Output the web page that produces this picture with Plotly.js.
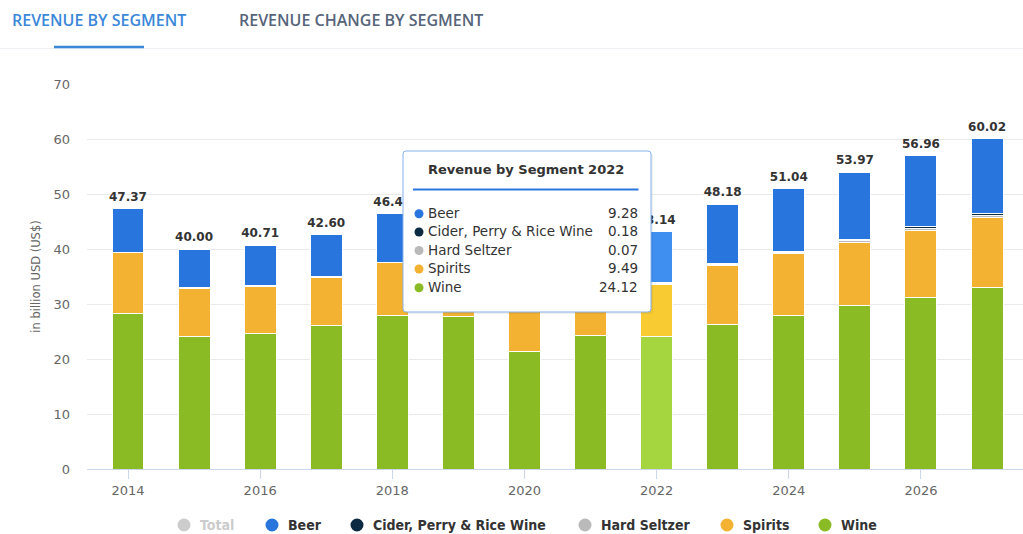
<!DOCTYPE html>
<html>
<head>
<meta charset="utf-8">
<script src="https://cdn.plot.ly/plotly-3.0.1.min.js"></script>
<style>html,body{margin:0;padding:0;background:#fff;}#chart{width:1023px;height:534px;}</style>
</head>
<body>
<div id="chart"></div>
<script>
// ---- Data (billion USD) ----
const years       = [2014, 2015, 2016, 2017, 2018, 2019, 2020, 2021, 2022, 2023, 2024, 2025, 2026, 2027];
const wine        = [28.20, 24.05, 24.67, 26.05, 28.00, 27.70, 21.45, 24.36, 24.12, 26.36, 27.87, 29.64, 31.20, 33.04];
const spirits     = [11.10,  8.80,  8.60,  8.85,  9.50, 10.00,  8.60,  9.25,  9.49, 10.68, 11.33, 11.58, 12.25, 12.60];
const hardSeltzer = [ 0.00,  0.00,  0.00,  0.00,  0.00,  0.01,  0.03,  0.05,  0.07,  0.10,  0.16,  0.25,  0.35,  0.45];
const cider       = [ 0.12,  0.11,  0.11,  0.12,  0.13,  0.14,  0.14,  0.16,  0.18,  0.20,  0.24,  0.30,  0.35,  0.45];
const beer        = [ 7.95,  7.04,  7.33,  7.58,  8.80,  9.20,  7.90,  8.60,  9.28, 10.84, 11.44, 12.20, 12.81, 13.48];
const xTickVals   = [2014, 2016, 2018, 2020, 2022, 2024, 2026];
const yTickVals   = [0, 10, 20, 30, 40, 50, 60, 70];
const legendNames = ['Total', 'Beer', 'Cider, Perry & Rice Wine', 'Hard Seltzer', 'Spirits', 'Wine'];
const tooltipYear = 2022;

// ---- Styles ----
const COL = {beer:'#2876dd', cider:'#0d2a43', hs:'#bababa', spirits:'#f4b233', wine:'#8abb25', total:'#cccccc'};
const HI  = {beer:'#3f8ff0', cider:'#1b3b5a', hs:'#c8c8c8', spirits:'#f9cb33', wine:'#a6d63f'};
const FONT = 'DejaVu Sans, Verdana, sans-serif';
const hiIdx = years.indexOf(tooltipYear);

const totals = years.map((y, i) => Math.round((wine[i] + spirits[i] + hardSeltzer[i] + cider[i] + beer[i]) * 100) / 100);

// pixel -> paper helpers (plot area 87..1023 x 84..469)
const L = 87, R = 1023, T = 84, B = 469, W = R - L, H = B - T;
const XR = [2013.3795, 2027.544];
const px = x => (x - L) / W;
const py = y => (B - y) / H;
const xToPix = v => L + (v - XR[0]) / (XR[1] - XR[0]) * W;

// tooltip box in pixels
const TIP = {x0: 403, y0: 151, x1: 651, y1: 312};
// total labels that lie completely under the tooltip box are not visible
const labelText = years.map((y, i) => {
  const cx = xToPix(y);
  const covered = (cx - 20) > TIP.x0 && (cx + 20) < TIP.x1;
  return covered ? '' : totals[i].toFixed(2);
});

function colorArr(key) {
  return years.map((y, i) => i === hiIdx ? HI[key] : COL[key]);
}
function barTrace(name, vals, key) {
  return {
    type: 'bar', name: name, x: years, y: vals,
    marker: {color: colorArr(key), line: {color: '#ffffff', width: 1}},
    hoverinfo: 'skip', showlegend: false
  };
}

const traces = [
  barTrace('Wine', wine, 'wine'),
  barTrace('Spirits', spirits, 'spirits'),
  barTrace('Hard Seltzer', hardSeltzer, 'hs'),
  barTrace('Cider, Perry & Rice Wine', cider, 'cider'),
  barTrace('Beer', beer, 'beer'),
  {
    type: 'scatter', mode: 'markers+text', x: years, y: totals,
    marker: {size: 6, color: 'rgba(0,0,0,0)'},
    text: labelText, textposition: 'top center',
    textfont: {family: FONT, size: 12, color: '#333333', weight: 'bold'},
    cliponaxis: false, hoverinfo: 'skip', showlegend: false
  }
];

const shapes = [];
const annotations = [];

// Tabs header
annotations.push({xref:'paper', yref:'paper', x: px(10), y: py(20), xanchor:'left', yanchor:'middle',
  text:'REVENUE BY SEGMENT', showarrow:false,
  font:{family:'Open Sans, sans-serif', size:16, color:'#3b87d9', weight:600}});
annotations.push({xref:'paper', yref:'paper', x: px(237), y: py(20), xanchor:'left', yanchor:'middle',
  text:'REVENUE CHANGE BY SEGMENT', showarrow:false,
  font:{family:'Open Sans, sans-serif', size:16, color:'#56657a', weight:600}});
shapes.push({type:'line', xref:'paper', yref:'paper', x0: px(0), x1: px(1023), y0: py(48.5), y1: py(48.5),
  line:{color:'#eef0f3', width:1}});
shapes.push({type:'line', xref:'paper', yref:'paper', x0: px(54), x1: px(144), y0: py(47), y1: py(47),
  line:{color:'#3b87d9', width:2.5}});

// Tooltip box (rounded)
function roundRect(x0, y0, x1, y1, r) {
  const a = px(x0), b = px(x1), c = py(y1), d = py(y0);
  const rx = r / W, ry = r / H;
  return `M ${a+rx},${d} L ${b-rx},${d} Q ${b},${d} ${b},${d-ry} L ${b},${c+ry} Q ${b},${c} ${b-rx},${c} ` +
         `L ${a+rx},${c} Q ${a},${c} ${a},${c+ry} L ${a},${d-ry} Q ${a},${d} ${a+rx},${d} Z`;
}
shapes.push({type:'path', xref:'paper', yref:'paper', layer:'above', path: roundRect(TIP.x0 + 2, TIP.y0 + 2, TIP.x1 + 2, TIP.y1 + 2, 3),
  fillcolor:'rgba(0,0,0,0.06)', line:{width:0}});
shapes.push({type:'path', xref:'paper', yref:'paper', layer:'above', path: roundRect(TIP.x0, TIP.y0, TIP.x1, TIP.y1, 3),
  fillcolor:'#ffffff', line:{color:'#84b1ee', width:1}});
shapes.push({type:'line', xref:'paper', yref:'paper', layer:'above', x0: px(413), x1: px(638.5), y0: py(189.5), y1: py(189.5),
  line:{color:'#2a77dc', width:2}});
annotations.push({xref:'paper', yref:'paper', x: px(525.5), y: py(169.5), xanchor:'center', yanchor:'middle',
  text:'<b>Revenue by Segment ' + tooltipYear + '</b>', showarrow:false,
  font:{family: FONT, size:13, color:'#333333'}});
const ttRows = [
  {name: legendNames[1], val: beer[hiIdx], col: COL.beer},
  {name: legendNames[2], val: cider[hiIdx], col: COL.cider},
  {name: legendNames[3], val: hardSeltzer[hiIdx], col: COL.hs},
  {name: legendNames[4], val: spirits[hiIdx], col: COL.spirits},
  {name: legendNames[5], val: wine[hiIdx], col: COL.wine}
];
const rowY = [212.7, 231, 249.5, 268, 286.7];
ttRows.forEach((r, k) => {
  const y = rowY[k];
  shapes.push({type:'circle', xref:'paper', yref:'paper', layer:'above',
    x0: px(419 - 4.5), x1: px(419 + 4.5), y0: py(y + 1 + 4.5), y1: py(y + 1 - 4.5),
    fillcolor: r.col, line:{width:0}});
  annotations.push({xref:'paper', yref:'paper', x: px(426), y: py(y), xanchor:'left', yanchor:'middle',
    text: r.name, showarrow:false, font:{family: FONT, size:13.5, color:'#333333'}});
  annotations.push({xref:'paper', yref:'paper', x: px(640), y: py(y), xanchor:'right', yanchor:'middle',
    text: r.val.toFixed(2), showarrow:false, font:{family: FONT, size:13.5, color:'#333333'}});
});

// Custom legend (circle symbols)
const legendCols = [COL.total, COL.beer, COL.cider, COL.hs, COL.spirits, COL.wine];
const legendDotX = [184, 272, 357, 585, 727, 825];
const legY = 525;
legendNames.forEach((n, k) => {
  const cx = legendDotX[k];
  shapes.push({type:'circle', xref:'paper', yref:'paper',
    x0: px(cx - 6.5), x1: px(cx + 6.5), y0: py(legY + 6.5), y1: py(legY - 6.5),
    fillcolor: legendCols[k], line:{width:0}});
  annotations.push({xref:'paper', yref:'paper', x: px(cx + 14), y: py(legY), xanchor:'left', yanchor:'middle',
    text: n, showarrow:false,
    font:{family:'DejaVu Sans Condensed, DejaVu Sans, sans-serif', size:14, weight:'bold', stretch:'condensed',
          color: k === 0 ? '#cccccc' : '#333333'}});
});

const layout = {
  width: 1023, height: 534,
  margin: {l: L, r: 1023 - R, t: T, b: 534 - B, pad: 0},
  paper_bgcolor: '#ffffff', plot_bgcolor: '#ffffff',
  barmode: 'stack', bargap: 0.516,
  showlegend: false, hovermode: false,
  font: {family: FONT, color: '#666666'},
  xaxis: {
    range: XR, tickvals: xTickVals, ticktext: xTickVals.map(String),
    ticks: 'outside', ticklen: 9, tickcolor: '#ccd6eb', tickwidth: 1,
    showline: true, linecolor: '#ccd6eb', linewidth: 1,
    showgrid: false, zeroline: false, fixedrange: true,
    tickfont: {family: FONT, size: 13, color: '#666666'}
  },
  yaxis: {
    range: [0, 70], tickvals: yTickVals, ticktext: yTickVals.map(String),
    ticks: '', ticklabelstandoff: 16,
    showgrid: true, gridcolor: '#e9e9e9', gridwidth: 1, zeroline: false, showline: false, fixedrange: true,
    tickfont: {family: FONT, size: 13, color: '#666666'},
    title: {text: 'in billion USD (US$)', standoff: 10, font: {family: FONT, size: 11.5, color: '#666666'}}
  },
  shapes: shapes,
  annotations: annotations
};

Plotly.newPlot('chart', traces, layout, {displayModeBar: false, staticPlot: true});
</script>
</body>
</html>
